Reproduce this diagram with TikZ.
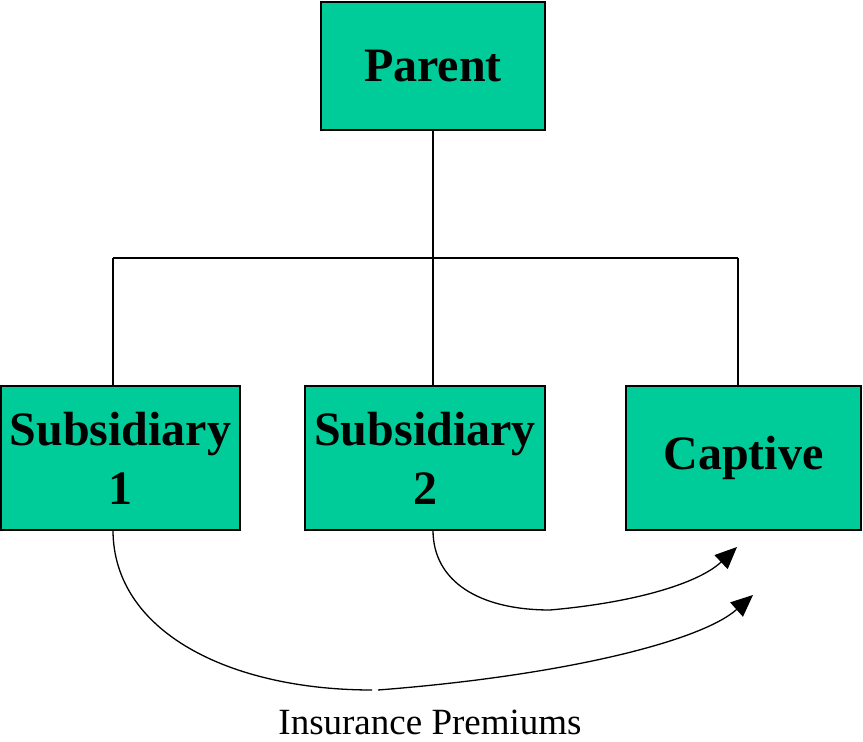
\documentclass[tikz,border=0pt]{standalone}
\usepackage{fontspec}
\setmainfont{Liberation Serif}
\usetikzlibrary{arrows.meta}
\definecolor{boxgreen}{RGB}{0,204,153}
\begin{document}
\begin{tikzpicture}[x=1pt,y=1pt,
  box/.style={draw=black, line width=1.5pt, fill=boxgreen, inner sep=0pt,
    font=\fontsize{48}{59}\selectfont\bfseries, align=center},
  conn/.style={line width=1.3pt},
  flow/.style={line width=1.3pt, -{Triangle[length=22pt,width=19pt]}}]
\useasboundingbox (0,0) rectangle (863,742);
\node[box, minimum width=224pt, minimum height=128pt] (parent) at (433,676) {\raisebox{-3pt}{Parent}};
\node[box, minimum width=239pt, minimum height=144pt] (sub1) at (120.5,284) {Subsidiary\\1};
\node[box, minimum width=240pt, minimum height=144pt] (sub2) at (425,284) {Subsidiary\\2};
\node[box, minimum width=235pt, minimum height=144pt] (captive) at (743.5,284) {\raisebox{-5pt}{Captive}};
\coordinate (bus) at (433,484);
\coordinate (j1) at (113,484);
\coordinate (j3) at (738,484);
\draw[conn] (parent.south) -- (bus);
\draw[conn] (j1) -- (j3);
\draw[conn] (j1) -- (j1 |- sub1.north);
\draw[conn] (bus) -- (bus |- sub2.north);
\draw[conn] (j3) -- (j3 |- captive.north);
% Subsidiary 1 premium flow
\coordinate (s1) at (113,212);
\coordinate (m1) at (372,52);
\coordinate (m1b) at (378,52);
\coordinate (t1) at (753,147);
\draw[conn] (s1) .. controls (113,110) and (230,52) .. (m1);
\draw[flow] (m1b) .. controls (560,66) and (700,100) .. (t1);
% Subsidiary 2 premium flow
\coordinate (s2) at (433,212);
\coordinate (m2) at (550,132);
\coordinate (t2) at (737,195);
\draw[conn] (s2) .. controls (433,160) and (480,132) .. (m2);
\draw[flow] (m2) .. controls (640,140) and (700,160) .. (t2);
\node[anchor=base, font=\fontsize{37}{40}\selectfont, inner sep=0pt] (label) at (430,7) {Insurance Premiums};
\end{tikzpicture}
\end{document}
